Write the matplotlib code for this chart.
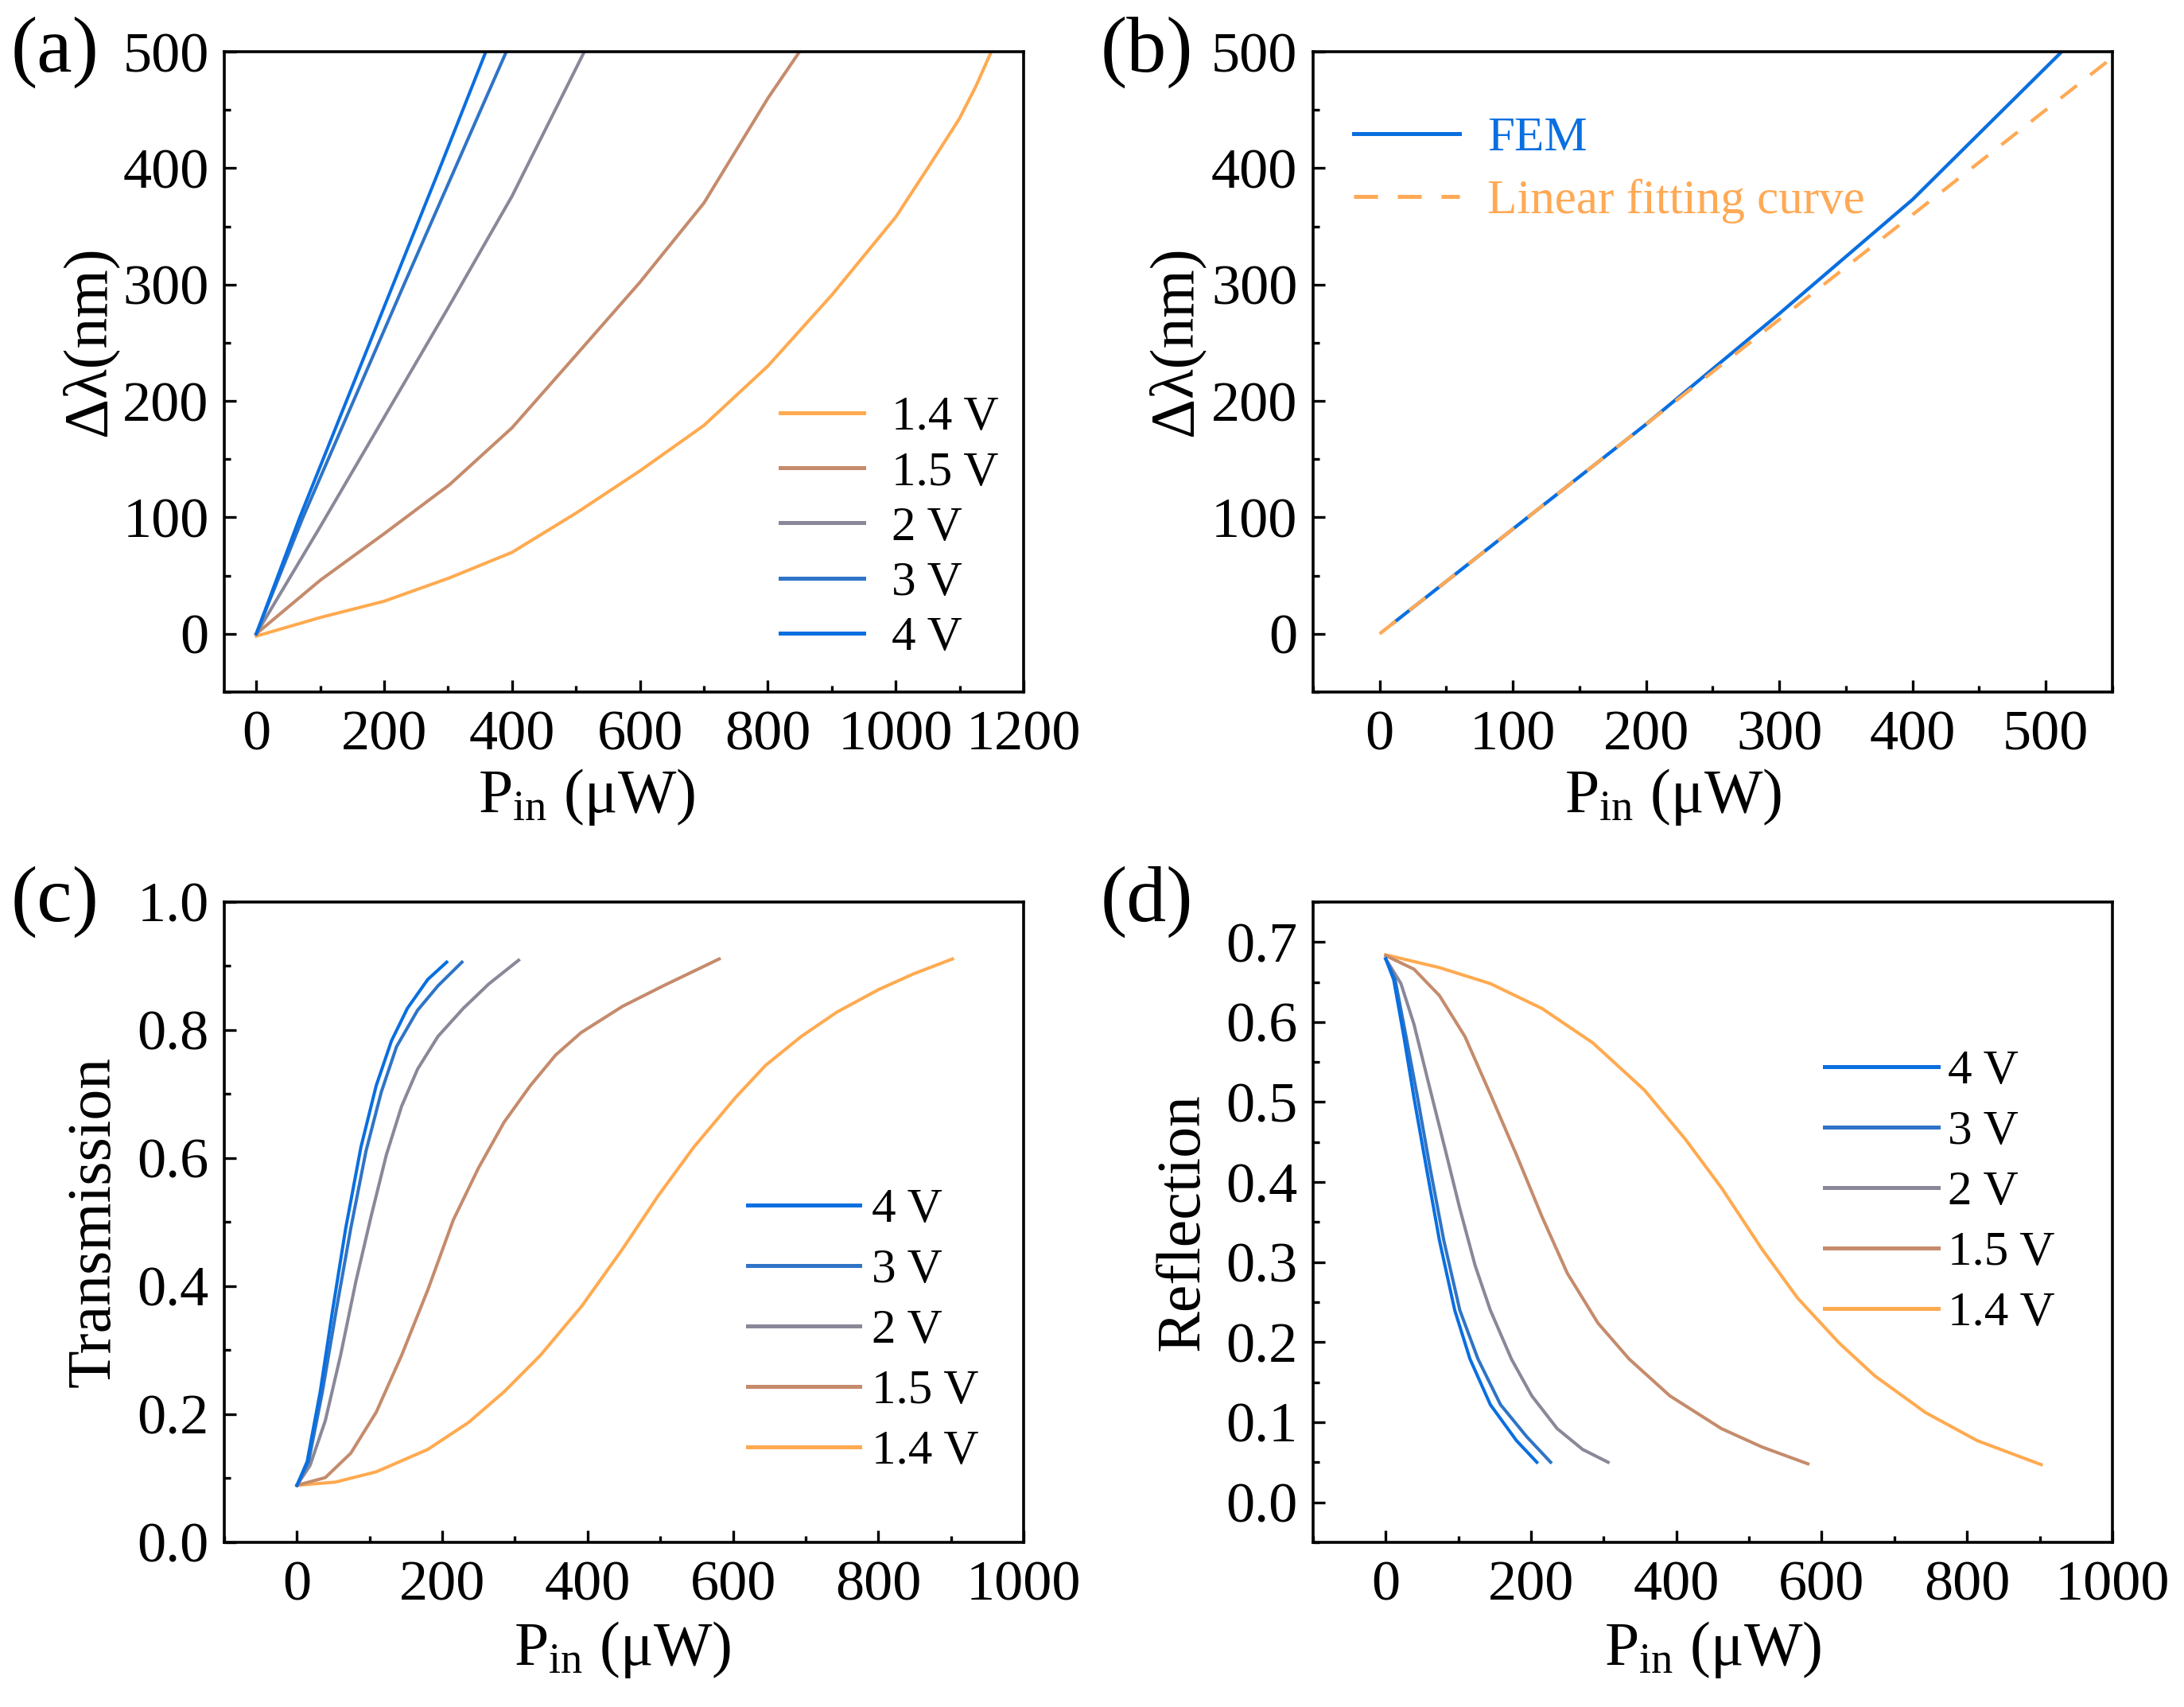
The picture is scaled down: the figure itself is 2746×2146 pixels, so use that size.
import matplotlib
matplotlib.use("Agg")
import matplotlib.pyplot as plt
from matplotlib.ticker import MultipleLocator, FormatStrFormatter

plt.rcParams['font.family'] = ['Liberation Serif', 'DejaVu Serif']
plt.rcParams['mathtext.fontset'] = 'custom'
plt.rcParams['mathtext.rm'] = 'Liberation Serif'
plt.rcParams['mathtext.it'] = 'Liberation Serif:italic'

# ---------------- data ----------------
colors = {'4 V': '#0a6fe0', '3 V': '#2f74c6', '2 V': '#8a8898',
          '1.5 V': '#c58b6c', '1.4 V': '#ffaa50'}

# (a) wavelength shift (nm) vs input power (uW)
a_4V_x = [0, 68, 141, 214, 287, 359]
a_4V_y = [0, 100, 200, 300, 400, 500]
a_3V_x = [0, 73, 152, 231, 311, 391]
a_3V_y = [0, 100, 200, 300, 400, 500]
a_2V_x = [0, 100, 200, 300, 400, 513]
a_2V_y = [0, 92, 186, 280, 376, 500]
a_15V_x = [0, 100, 200, 302, 400, 501, 600, 700, 800, 852]
a_15V_y = [0, 46, 86, 128, 177, 240, 302, 370, 460, 502]
a_14V_x = [0, 100, 200, 302, 400, 501, 600, 700, 800, 900, 1000, 1050, 1099, 1125, 1151]
a_14V_y = [-2, 14, 28, 48, 70, 104, 140, 179, 230, 291, 358, 400, 442, 470, 502]

# (b) FEM vs linear fit
b_fem_x = [10, 100, 200, 300, 400, 512]
b_fem_y = [9, 90, 180, 275, 373, 500]
b_fit_x = [0, 550]
b_fit_y = [0, 495]

# (c) transmission
c_4V_x = [0, 14, 32, 49, 67, 88, 109, 130, 152, 180, 206]
c_4V_y = [0.089, 0.126, 0.235, 0.362, 0.49, 0.617, 0.713, 0.783, 0.834, 0.879, 0.906]
c_3V_x = [0, 16, 35, 54, 74, 95, 116, 137, 166, 194, 227]
c_3V_y = [0.089, 0.126, 0.235, 0.362, 0.49, 0.611, 0.703, 0.774, 0.831, 0.869, 0.906]
c_2V_x = [0, 18, 39, 60, 81, 102, 123, 144, 166, 194, 229, 264, 305]
c_2V_y = [0.089, 0.12, 0.19, 0.292, 0.407, 0.509, 0.605, 0.681, 0.739, 0.79, 0.834, 0.872, 0.909]
c_15V_x = [0, 39, 74, 109, 144, 180, 215, 250, 285, 321, 356, 391, 448, 504, 581]
c_15V_y = [0.089, 0.101, 0.139, 0.203, 0.292, 0.394, 0.503, 0.585, 0.656, 0.713, 0.761,
           0.796, 0.837, 0.869, 0.911]
c_14V_x = [0, 53, 109, 180, 236, 285, 335, 392, 448, 497, 546, 603, 645, 694, 743, 800,
           849, 902]
c_14V_y = [0.089, 0.094, 0.110, 0.145, 0.187, 0.235, 0.292, 0.369, 0.458, 0.541, 0.617,
           0.694, 0.745, 0.79, 0.828, 0.863, 0.888, 0.911]

# (d) reflection
d_4V_x = [0, 11, 25, 39, 56, 74, 95, 116, 144, 180, 208]
d_4V_y = [0.679, 0.653, 0.582, 0.505, 0.418, 0.327, 0.24, 0.179, 0.122, 0.077, 0.05]
d_3V_x = [0, 13, 28, 44, 61, 80, 102, 127, 158, 194, 227]
d_3V_y = [0.679, 0.653, 0.582, 0.505, 0.418, 0.327, 0.24, 0.179, 0.122, 0.082, 0.05]
d_2V_x = [0, 21, 39, 60, 81, 102, 123, 144, 173, 201, 236, 271, 306]
d_2V_y = [0.679, 0.648, 0.597, 0.52, 0.444, 0.367, 0.296, 0.24, 0.179, 0.133, 0.092,
          0.066, 0.05]
d_15V_x = [0, 39, 74, 109, 144, 180, 215, 250, 292, 335, 391, 462, 518, 581]
d_15V_y = [0.683, 0.666, 0.633, 0.582, 0.51, 0.434, 0.357, 0.286, 0.224, 0.179, 0.133,
           0.092, 0.069, 0.048]
d_14V_x = [0, 74, 144, 215, 285, 356, 412, 462, 518, 567, 624, 673, 743, 814, 902]
d_14V_y = [0.684, 0.668, 0.648, 0.617, 0.574, 0.515, 0.454, 0.393, 0.316, 0.255, 0.199,
           0.158, 0.112, 0.077, 0.047]

# ---------------- figure ----------------
fig = plt.figure(figsize=(13.73, 10.73), dpi=200)
W, H = 0.366, 0.3751
axa = fig.add_axes([0.1027, 0.5946, W, H])
axb = fig.add_axes([0.6012, 0.5946, W, H])
axc = fig.add_axes([0.1027, 0.0965, W, H])
axd = fig.add_axes([0.6012, 0.0965, W, H])

LW = 1.45
TICK_FS = 26
LABEL_FS = 28
LEG_FS = 22

def style(ax, xmaj, xmin, ymaj, ymin):
    for s in ax.spines.values():
        s.set_linewidth(1.3)
    ax.xaxis.set_major_locator(MultipleLocator(xmaj))
    ax.xaxis.set_minor_locator(MultipleLocator(xmin))
    ax.yaxis.set_major_locator(MultipleLocator(ymaj))
    ax.yaxis.set_minor_locator(MultipleLocator(ymin))
    ax.tick_params(which='both', direction='in', top=False, right=False, width=1.2)
    ax.tick_params(which='major', length=5.5, labelsize=TICK_FS)
    ax.tick_params(which='minor', length=3)
    ax.tick_params(axis='x', which='major', pad=8)
    ax.tick_params(axis='y', which='major', pad=7)

def fix_legend(leg):
    for l in leg.get_lines():
        l.set_linewidth(1.8)

xlabel = r'P$_{\mathrm{in}}$ (μW)'

# (a)
axa.plot(a_14V_x, a_14V_y, color=colors['1.4 V'], lw=LW, label='1.4 V')
axa.plot(a_15V_x, a_15V_y, color=colors['1.5 V'], lw=LW, label='1.5 V')
axa.plot(a_2V_x, a_2V_y, color=colors['2 V'], lw=LW, label='2 V')
axa.plot(a_3V_x, a_3V_y, color=colors['3 V'], lw=LW, label='3 V')
axa.plot(a_4V_x, a_4V_y, color=colors['4 V'], lw=LW, label='4 V')
axa.set_xlim(-50, 1200)
axa.set_ylim(-50, 500)
style(axa, 200, 100, 100, 50)
axa.set_ylabel('Δλ(nm)', fontsize=LABEL_FS)
axa.set_xlabel(xlabel, fontsize=LABEL_FS)
axa.yaxis.set_label_coords(-0.133, 0.548)
axa.xaxis.set_label_coords(0.453, -0.117)
fix_legend(axa.legend(loc='center left', bbox_to_anchor=(0.6955, 0.256), frameon=False,
                      fontsize=LEG_FS, handlelength=1.72, handletextpad=0.57,
                      labelspacing=0.22, borderpad=0, borderaxespad=0))

# (b)
axb.plot(b_fem_x, b_fem_y, color=colors['4 V'], lw=LW + 0.1, label='FEM')
axb.plot(b_fit_x, b_fit_y, color='#ffa955', lw=LW + 0.1, dashes=(6, 5),
         label='Linear fitting curve')
axb.set_xlim(-50, 550)
axb.set_ylim(-50, 500)
style(axb, 100, 50, 100, 50)
axb.set_ylabel('Δλ(nm)', fontsize=LABEL_FS)
axb.set_xlabel(xlabel, fontsize=LABEL_FS)
axb.yaxis.set_label_coords(-0.136, 0.548)
axb.xaxis.set_label_coords(0.45, -0.117)
fix_legend(axb.legend(loc='center left', bbox_to_anchor=(0.0507, 0.815), frameon=False,
                      fontsize=LEG_FS, handlelength=2.18, handletextpad=0.57,
                      labelspacing=0.37, borderpad=0, borderaxespad=0,
                      labelcolor='linecolor'))

# (c)
axc.plot(c_14V_x, c_14V_y, color=colors['1.4 V'], lw=LW, label='1.4 V')
axc.plot(c_15V_x, c_15V_y, color=colors['1.5 V'], lw=LW, label='1.5 V')
axc.plot(c_2V_x, c_2V_y, color=colors['2 V'], lw=LW, label='2 V')
axc.plot(c_3V_x, c_3V_y, color=colors['3 V'], lw=LW, label='3 V')
axc.plot(c_4V_x, c_4V_y, color=colors['4 V'], lw=LW, label='4 V')
axc.set_xlim(-100, 1000)
axc.set_ylim(0, 1.0)
style(axc, 200, 100, 0.2, 0.1)
axc.yaxis.set_major_formatter(FormatStrFormatter('%.1f'))
axc.set_ylabel('Transmission', fontsize=LABEL_FS)
axc.set_xlabel(xlabel, fontsize=LABEL_FS)
axc.yaxis.set_label_coords(-0.127, 0.5)
axc.xaxis.set_label_coords(0.498, -0.12)
h, lab = axc.get_legend_handles_labels()
fix_legend(axc.legend(h[::-1], lab[::-1], loc='center left', bbox_to_anchor=(0.655, 0.33),
                      frameon=False, fontsize=LEG_FS, handlelength=2.3, handletextpad=0.25,
                      labelspacing=0.33, borderpad=0, borderaxespad=0))

# (d)
axd.plot(d_14V_x, d_14V_y, color=colors['1.4 V'], lw=LW, label='1.4 V')
axd.plot(d_15V_x, d_15V_y, color=colors['1.5 V'], lw=LW, label='1.5 V')
axd.plot(d_2V_x, d_2V_y, color=colors['2 V'], lw=LW, label='2 V')
axd.plot(d_3V_x, d_3V_y, color=colors['3 V'], lw=LW, label='3 V')
axd.plot(d_4V_x, d_4V_y, color=colors['4 V'], lw=LW, label='4 V')
axd.set_xlim(-100, 1000)
axd.set_ylim(-0.05, 0.75)
style(axd, 200, 100, 0.1, 0.05)
axd.yaxis.set_major_formatter(FormatStrFormatter('%.1f'))
axd.set_ylabel('Reflection', fontsize=LABEL_FS)
axd.set_xlabel(xlabel, fontsize=LABEL_FS)
axd.yaxis.set_label_coords(-0.127, 0.5)
axd.xaxis.set_label_coords(0.5, -0.12)
h, lab = axd.get_legend_handles_labels()
fix_legend(axd.legend(h[::-1], lab[::-1], loc='center left', bbox_to_anchor=(0.640, 0.546),
                      frameon=False, fontsize=LEG_FS, handlelength=2.34, handletextpad=0.2,
                      labelspacing=0.33, borderpad=0, borderaxespad=0))

# panel labels
for txt, x, y in [('(a)', 0.005, 0.9694), ('(b)', 0.504, 0.9694),
                  ('(c)', 0.005, 0.4718), ('(d)', 0.504, 0.4718)]:
    fig.text(x, y, txt, fontsize=36, ha='left', va='center')

fig.savefig('out.png', dpi=200)
